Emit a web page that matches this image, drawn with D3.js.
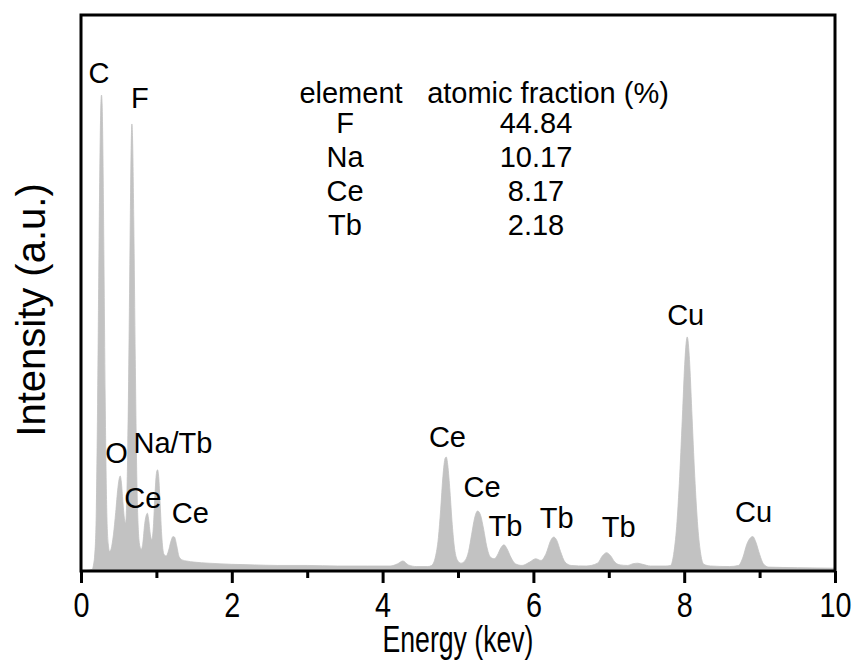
<!DOCTYPE html>
<html>
<head>
<meta charset="utf-8">
<script src="https://cdn.jsdelivr.net/npm/d3@7"></script>
<style>
  html, body { margin: 0; padding: 0; background: #fff; }
  svg { display: block; }
  text { font-family: Arial, "Liberation Sans", sans-serif; fill: #000; }
</style>
</head>
<body>
<svg id="chart" width="860" height="668"></svg>
<script>
// ---- data ----
const energy = [
  0.00, 0.15, 0.17, 0.18, 0.20, 0.22, 0.24, 0.255, 0.265, 0.272, 0.28, 0.29, 0.305, 0.32, 0.34, 0.36, 0.38,
  0.40, 0.43, 0.46, 0.49, 0.51, 0.52, 0.535, 0.555, 0.575, 0.59,
  0.60, 0.62, 0.64, 0.655, 0.665, 0.675, 0.685, 0.70, 0.72, 0.74, 0.76, 0.78, 0.80,
  0.82, 0.845, 0.87, 0.88, 0.895, 0.92, 0.94, 0.96, 0.98, 1.00, 1.015, 1.03, 1.05, 1.07,
  1.10, 1.13, 1.16, 1.19, 1.22, 1.24, 1.27, 1.30, 1.34, 1.40, 1.50, 1.70, 2.00, 2.30, 2.60,
  3.00, 3.40, 3.80, 4.10, 4.20, 4.27, 4.34, 4.45, 4.60,
  4.65, 4.70, 4.74, 4.77, 4.80, 4.83, 4.845, 4.86, 4.89, 4.92, 4.95, 4.99, 5.04, 5.10,
  5.14, 5.18, 5.22, 5.26, 5.30, 5.34, 5.38, 5.43, 5.48,
  5.52, 5.57, 5.61, 5.65, 5.70, 5.76, 5.85, 5.95, 6.03, 6.10,
  6.17, 6.23, 6.27, 6.31, 6.36, 6.42, 6.50, 6.70, 6.85, 6.92, 6.97, 7.02, 7.08, 7.15,
  7.25, 7.32, 7.38, 7.45, 7.55, 7.75,
  7.82, 7.86, 7.90, 7.94, 7.98, 8.01, 8.04, 8.07, 8.10, 8.14, 8.18, 8.22, 8.26, 8.35,
  8.60, 8.72, 8.78, 8.83, 8.88, 8.91, 8.95, 9.00, 9.05, 9.12, 9.50, 10.00
];
const intensity = [
  0.0, 0.3, 1.5, 2.5, 9, 30, 60, 78, 84.5, 85.6, 84, 76, 55, 32, 12, 5, 3.5,
  4, 6.5, 10.5, 15, 16.8, 17.1, 16, 12.5, 9.5, 8.6,
  10, 22, 45, 65, 76, 80.4, 77, 63, 38, 17, 7.5, 4.5, 3.9,
  5, 8.5, 10.2, 10.4, 9.5, 6.5, 5.6, 8, 13.5, 17.5, 18.2, 17, 12, 6.5,
  3, 2.7, 3.6, 5.2, 6.2, 6.1, 4.5, 2.6, 2.0, 1.8, 1.6, 1.4, 1.2, 1.1, 1.0,
  1.0, 0.9, 0.9, 0.9, 1.3, 1.8, 1.1, 0.8, 0.8,
  1.0, 2.5, 6, 11, 17, 20.3, 20.5, 19.5, 15, 9, 4.5, 2.0, 1.4, 2.0,
  3.5, 6.5, 9.5, 10.8, 10, 7.5, 4.5, 2.5, 2.2,
  2.8, 4.2, 4.7, 4.0, 2.5, 1.3, 1.0, 1.6, 2.2, 1.9,
  3.2, 5.5, 6.1, 5.5, 3.5, 1.6, 1.0, 0.9, 1.4, 2.8, 3.3, 2.8, 1.6, 1.1,
  1.0, 1.3, 1.4, 1.2, 0.9, 0.9,
  1.0, 3, 8, 17, 29, 38, 42.1, 38, 29, 17, 8, 3, 1.2, 0.9,
  0.8, 1.0, 2.5, 4.8, 6.0, 6.2, 5.2, 3, 1.3, 0.7, 0.6, 0.5
];

// peak annotations: text and anchor (energy, intensity) in data units
const peakNames  = ["C", "F", "O", "Na/Tb", "Ce", "Ce", "Ce", "Ce", "Tb", "Tb", "Tb", "Cu", "Cu"];
const peakLabelE = [0.24, 0.78, 0.47, 1.22, 0.82, 1.45, 4.86, 5.32, 5.63, 6.31, 7.13, 8.02, 8.92];
const peakLabelI = [87.8, 83.3, 19.4, 21.2, 11.3, 8.6, 22.3, 13.3, 6.3, 7.7, 6.1, 44.2, 8.8];

// composition table
const tableHeader = ["element", "atomic fraction (%)"];
const tableElements = ["F", "Na", "Ce", "Tb"];
const tableFractions = ["44.84", "10.17", "8.17", "2.18"];

const xTicksMajor = [0, 2, 4, 6, 8, 10];
const xTicksMinor = [1, 3, 5, 7, 9];
const xTitle = "Energy (kev)";
const yTitle = "Intensity (a.u.)";

// ---- layout ----
const W = 860, H = 668;
const margin = { left: 81, right: 25, top: 15, bottom: 97 };
const svg = d3.select("#chart");

const x = d3.scaleLinear().domain([0, 10]).range([margin.left, W - margin.right]);
const y = d3.scaleLinear().domain([0, 100]).range([H - margin.bottom, margin.top]);

const pts = energy.map((e, i) => [e, intensity[i]]);

// spectrum area
const area = d3.area()
  .x(d => x(d[0]))
  .y0(y(0))
  .y1(d => y(d[1]))
  .curve(d3.curveMonotoneX);

svg.append("path")
  .datum(pts)
  .attr("d", area)
  .attr("fill", "#c2c2c2")
  .attr("stroke", "#c2c2c2")
  .attr("stroke-width", 0.8);

// frame
svg.append("rect")
  .attr("x", x(0)).attr("y", y(100))
  .attr("width", x(10) - x(0)).attr("height", y(0) - y(100))
  .attr("fill", "none").attr("stroke", "#000").attr("stroke-width", 3);

// bottom axis: major ticks with labels (condensed numerals as in the reference)
const xAxis = d3.axisBottom(x).tickValues(xTicksMajor).tickSize(12).tickPadding(8).tickFormat(d3.format("d"));
const gx = svg.append("g").attr("transform", `translate(0,${y(0)})`).call(xAxis);
gx.select(".domain").remove();
gx.selectAll(".tick line").attr("stroke", "#000").attr("stroke-width", 3);
gx.selectAll(".tick text")
  .attr("font-size", 36)
  .attr("font-family", "Arial, 'Liberation Sans', sans-serif")
  .attr("fill", "#000")
  .attr("transform", "scale(0.8,1)");

// minor ticks
const xAxisMinor = d3.axisBottom(x).tickValues(xTicksMinor).tickSize(7).tickFormat("");
const gxm = svg.append("g").attr("transform", `translate(0,${y(0)})`).call(xAxisMinor);
gxm.select(".domain").remove();
gxm.selectAll(".tick line").attr("stroke", "#000").attr("stroke-width", 3);

// axis titles
svg.append("text")
  .attr("transform", `translate(${(x(0) + x(10)) / 2},652) scale(0.72,1)`)
  .attr("text-anchor", "middle").attr("font-size", 37)
  .text(xTitle);

svg.append("text")
  .attr("transform", `translate(45,310) rotate(-90)`)
  .attr("text-anchor", "middle").attr("font-size", 40)
  .text(yTitle);

// peak labels
svg.append("g").selectAll("text")
  .data(peakNames)
  .join("text")
  .attr("x", (d, i) => x(peakLabelE[i]))
  .attr("y", (d, i) => y(peakLabelI[i]))
  .attr("text-anchor", "middle")
  .attr("font-size", 29)
  .text(d => d);

// composition table
const colElemX = 345, colFracX = 536;
const headerY = 103, rowStep = 34;
svg.append("text").attr("x", 351).attr("y", headerY).attr("text-anchor", "middle").attr("font-size", 29).text(tableHeader[0]);
svg.append("text").attr("x", 548).attr("y", headerY).attr("text-anchor", "middle").attr("font-size", 29).text(tableHeader[1]);
const rows = svg.append("g");
rows.selectAll("text.el")
  .data(tableElements).join("text").attr("class", "el")
  .attr("x", colElemX).attr("y", (d, i) => headerY + 30 + i * rowStep)
  .attr("text-anchor", "middle").attr("font-size", 29).text(d => d);
rows.selectAll("text.fr")
  .data(tableFractions).join("text").attr("class", "fr")
  .attr("x", colFracX).attr("y", (d, i) => headerY + 30 + i * rowStep)
  .attr("text-anchor", "middle").attr("font-size", 29).text(d => d);
</script>
</body>
</html>
